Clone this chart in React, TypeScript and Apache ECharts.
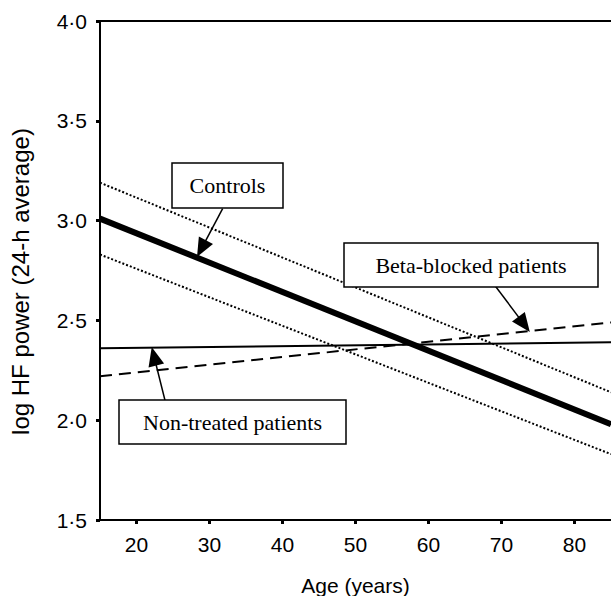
import React, { useEffect, useRef } from "react";
import * as echarts from "echarts";

// ---- data ----
const ageRange = [15, 85];
const xTicks = [20, 30, 40, 50, 60, 70, 80];
const yTicks = [1.5, 2.0, 2.5, 3.0, 3.5, 4.0];

// regression lines: value at age 15 and at age 85
const controls = [3.01, 1.98];
const controlsUpper = [3.19, 2.14];
const controlsLower = [2.83, 1.83];
const nonTreated = [2.36, 2.39];
const betaBlocked = [2.22, 2.49];

// annotation arrows: [startAge, startValue, headAge, headValue] (head = centre of arrowhead)
const arrowControls = [31.8, 3.06, 28.9, 2.86];
const arrowBeta = [69.2, 2.67, 73.1, 2.48];
const arrowNonTreated = [23.9, 2.1, 22.4, 2.32];

const labelControls = "Controls";
const labelBeta = "Beta-blocked patients";
const labelNonTreated = "Non-treated patients";

const toPairs = (vals: number[]) => ageRange.map((a, i) => [a, vals[i]]);
const fmt = (v: number) => v.toFixed(1).replace(".", "\u00B7");

const arrowPair = (a: number[]) => [
  { coord: [a[0], a[1]], symbol: "none" },
  { coord: [a[2], a[3]], symbol: "triangle" },
];

const sans = "'Liberation Sans', Arial, sans-serif";
const serif = "'Liberation Serif', 'Times New Roman', serif";

const box = (x: number, y: number, w: number, h: number, text: string) => ({
  type: "group",
  z: 100,
  children: [
    {
      type: "rect",
      shape: { x, y, width: w, height: h },
      style: { fill: "#fff", stroke: "#000", lineWidth: 1.5 },
      z: 100,
    },
    {
      type: "text",
      x: x + w / 2,
      y: y + h / 2,
      z: 101,
      style: {
        text,
        font: `22px ${serif}`,
        fill: "#000",
        align: "center",
        verticalAlign: "middle",
      },
    },
  ],
});

export default function App() {
  const ref = useRef<HTMLDivElement>(null);
  useEffect(() => {
    if (!ref.current) return;
    const chart = echarts.init(ref.current, null, { renderer: "svg" });
    const lineSeries = (name: string, vals: number[], width: number, type: any, extra: any = {}) => ({
      name,
      type: "line",
      data: toPairs(vals),
      symbol: "none",
      lineStyle: { color: "#000", width, type, cap: "butt" },
      silent: true,
      ...extra,
    });
    chart.setOption({
      animation: false,
      grid: { left: 100, right: 0, top: 21, bottom: 76, outerBoundsMode: "none" },
      xAxis: [
        {
          type: "value",
          min: ageRange[0],
          max: ageRange[1],
          name: "Age (years)",
          nameLocation: "middle",
          nameGap: 55,
          nameTextStyle: { fontFamily: sans, fontSize: 21, color: "#000" },
          axisLine: { show: true, lineStyle: { color: "#000", width: 2 } },
          axisTick: {
            show: true,
            customValues: xTicks,
            length: 4,
            lineStyle: { color: "#000", width: 3 },
          },
          axisLabel: {
            customValues: xTicks,
            margin: 14,
            fontFamily: sans,
            fontSize: 21,
            color: "#000",
          },
          splitLine: { show: false },
        },
        {
          type: "value",
          position: "top",
          min: ageRange[0],
          max: ageRange[1],
          axisLine: { show: true, lineStyle: { color: "#000", width: 2 } },
          axisTick: { show: false },
          axisLabel: { show: false },
          splitLine: { show: false },
        },
      ],
      yAxis: {
        type: "value",
        min: yTicks[0],
        max: yTicks[yTicks.length - 1],
        interval: 0.5,
        name: "log HF power (24-h average)",
        nameLocation: "middle",
        nameGap: 68,
        nameTextStyle: { fontFamily: sans, fontSize: 24, color: "#000", padding: [0, 22, 0, 0] },
        axisLine: { show: true, lineStyle: { color: "#000", width: 2 } },
        axisTick: { show: true, length: 4, lineStyle: { color: "#000", width: 3 } },
        axisLabel: {
          margin: 13,
          fontFamily: sans,
          fontSize: 21,
          color: "#000",
          formatter: (v: number) => fmt(v),
        },
        splitLine: { show: false },
      },
      series: [
        lineSeries("Controls upper", controlsUpper, 2, "dotted"),
        lineSeries("Controls lower", controlsLower, 2, "dotted"),
        lineSeries("Non-treated patients", nonTreated, 2, "solid"),
        lineSeries("Beta-blocked patients", betaBlocked, 2, [12, 7]),
        lineSeries("Controls", controls, 6, "solid", {
          markLine: {
            silent: true,
            symbol: ["none", "triangle"],
            symbolSize: [16, 19],
            label: { show: false },
            lineStyle: { color: "#000", width: 1.5, type: "solid" },
            itemStyle: { color: "#000" },
            emphasis: { disabled: true },
            data: [arrowPair(arrowControls), arrowPair(arrowBeta), arrowPair(arrowNonTreated)],
          },
        }),
      ],
      graphic: [
        box(172, 163, 111, 45, labelControls),
        box(344, 243, 254, 44, labelBeta),
        box(119, 400, 227, 44, labelNonTreated),
      ],
    });
    return () => chart.dispose();
  }, []);
  return (
    <div
      ref={ref}
      style={{ position: "fixed", left: 0, top: 0, width: 611, height: 596, background: "#fff" }}
    />
  );
}
